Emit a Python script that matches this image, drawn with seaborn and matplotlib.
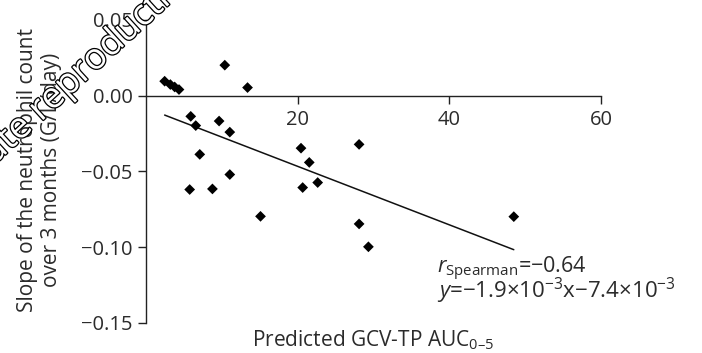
import matplotlib
matplotlib.use("Agg")
import matplotlib.pyplot as plt
import matplotlib.patheffects as pe
import seaborn as sns
import numpy as np
import pandas as pd

# ---- data ----
auc = [2.46, 3.21, 3.78, 4.35, 10.39, 13.39, 5.90, 6.56, 9.64, 11.05,
       7.09, 11.05, 5.76, 8.76, 15.1, 20.44, 21.53, 22.64, 20.66, 28.1,
       28.1, 29.33, 48.5]
slope = [0.0096, 0.0074, 0.0058, 0.0041, 0.0202, 0.0054, -0.0136, -0.0197,
         -0.0167, -0.0240, -0.0387, -0.0520, -0.0619, -0.0615, -0.0796,
         -0.0346, -0.0440, -0.0573, -0.0606, -0.0321, -0.0846, -0.0997,
         -0.0798]
fit_slope = -0.00193
fit_intercept = -0.0080
x_ticks = [20, 40, 60]
y_ticks = [0.05, 0.00, -0.05, -0.10, -0.15]
y_ticklabels = ["0.05", "0.00", "\u22120.05", "\u22120.10", "\u22120.15"]

sns.set_theme(style="white")
plt.rcParams["font.family"] = ["Open Sans", "DejaVu Sans"]
plt.rcParams["mathtext.fontset"] = "custom"
plt.rcParams["mathtext.rm"] = "Open Sans"
plt.rcParams["mathtext.it"] = "Open Sans:italic"
plt.rcParams["mathtext.bf"] = "Open Sans:bold"

MINUS = "\u2212"
txt = "#2b2b2b"
W, H = 702, 353
fig = plt.figure(figsize=(W / 100, H / 100), dpi=100)
ax = fig.add_axes([146 / W, 30 / H, (601 - 146) / W, (323 - 20) / H])

df = pd.DataFrame({"auc": auc, "slope": slope})
sns.scatterplot(data=df, x="auc", y="slope", marker="D", color="black",
                s=30, edgecolor="none", ax=ax, zorder=3)

xl = np.array([min(auc), max(auc)])
line_df = pd.DataFrame({"x": xl, "y": fit_intercept + fit_slope * xl})
sns.lineplot(data=line_df, x="x", y="y", color="#111111", linewidth=1.1, ax=ax)

ax.set_xlim(0, 60)
ax.set_ylim(-0.15, 0.05)
ax.spines["top"].set_visible(False)
ax.spines["right"].set_visible(False)
ax.spines["bottom"].set_position(("data", 0))
for s in ("left", "bottom"):
    ax.spines[s].set_color("#222222")
    ax.spines[s].set_linewidth(1.0)

ax.set_xticks(x_ticks)
ax.set_xticklabels([str(t) for t in x_ticks])
ax.set_yticks(y_ticks)
ax.set_yticklabels(y_ticklabels)
ax.tick_params(axis="both", which="both", direction="out", length=5.5,
               width=1.0, color="#222222", labelsize=14.5, labelcolor=txt,
               bottom=True, left=True)
ax.tick_params(axis="x", pad=5)
ax.tick_params(axis="y", pad=4)

ax.set_xlabel("")
ax.set_ylabel("")
fig.text(373 / W, 1 - 346 / H,
         "Predicted GCV-TP AUC$_{\\mathrm{0" + "\u2013" + "5}}$",
         ha="center", va="baseline", fontsize=15, color=txt)
fig.text(28 / W, 1 - 170 / H, "Slope of the neutrophil count",
         rotation=90, ha="center", va="center", fontsize=15, color=txt)
fig.text(51 / W, 1 - 170 / H, "over 3 months (G/L/day)",
         rotation=90, ha="center", va="center", fontsize=15, color=txt)

fig.text(437 / W, 1 - 273 / H,
         "$r_{\\mathrm{Spearman}}$=" + MINUS + "0.64",
         ha="left", va="baseline", fontsize=15.5, color=txt)
fig.text(437 / W, 1 - 298 / H,
         "$y$=" + MINUS + "1.9\u00d710$^{" + MINUS + "3}$x" + MINUS
         + "7.4\u00d710$^{" + MINUS + "3}$",
         ha="left", va="baseline", fontsize=16, color=txt)

# watermark (outlined diagonal text)
ang = 42.5
u = np.array([np.cos(np.radians(ang)), np.sin(np.radians(ang))])
start = np.array([41.0, H - 122.0])          # baseline start of "reproduction"
gap = 9.0
wm = dict(rotation=ang, rotation_mode="anchor", va="baseline",
          fontsize=26, color="white", zorder=10,
          path_effects=[pe.withStroke(linewidth=1.8, foreground="black")])
fig.text(start[0] / W, start[1] / H, "reproduction", ha="left", **wm)
p2 = start - gap * u
fig.text(p2[0] / W, p2[1] / H, "distribute", ha="right", **wm)

fig.savefig("out.png", dpi=100)
